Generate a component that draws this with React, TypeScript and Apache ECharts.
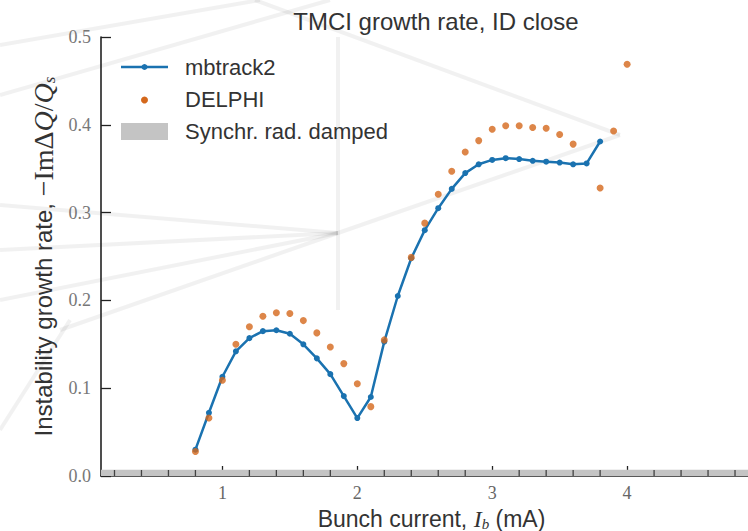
import React, { useEffect, useRef } from "react";
import * as echarts from "echarts";

// mbtrack2 simulation
const mbX = [0.8, 0.9, 1.0, 1.1, 1.2, 1.3, 1.4, 1.5, 1.6, 1.7, 1.8, 1.9, 2.0, 2.1, 2.2, 2.3, 2.4, 2.5, 2.6, 2.7, 2.8, 2.9, 3.0, 3.1, 3.2, 3.3, 3.4, 3.5, 3.6, 3.7, 3.8];
const mbY = [0.030, 0.072, 0.113, 0.142, 0.157, 0.165, 0.166, 0.162, 0.150, 0.134, 0.116, 0.091, 0.066, 0.090, 0.153, 0.205, 0.248, 0.280, 0.305, 0.327, 0.345, 0.355, 0.360, 0.362, 0.361, 0.359, 0.358, 0.357, 0.355, 0.356, 0.381];

// DELPHI
const dpX = [0.8, 0.9, 1.0, 1.1, 1.2, 1.3, 1.4, 1.5, 1.6, 1.7, 1.8, 1.9, 2.0, 2.1, 2.2, 2.4, 2.5, 2.6, 2.7, 2.8, 2.9, 3.0, 3.1, 3.2, 3.3, 3.4, 3.5, 3.6, 3.8, 3.9, 4.0];
const dpY = [0.028, 0.066, 0.109, 0.150, 0.170, 0.182, 0.186, 0.185, 0.177, 0.163, 0.147, 0.128, 0.105, 0.079, 0.155, 0.249, 0.288, 0.321, 0.347, 0.369, 0.382, 0.395, 0.399, 0.399, 0.397, 0.396, 0.389, 0.378, 0.328, 0.393, 0.469];

// synchrotron radiation damped band
const bandX = [0.1, 5.0];
const bandY = [0.007, 0.007];

// axes
const xMin = 0.1;
const xMax = 5.0;
const yMin = 0;
const yMax = 0.5;
const yInterval = 0.1;
const xMinorTicks = [0.2, 0.4, 0.6, 0.8, 1.2, 1.4, 1.6, 1.8, 2.2, 2.4, 2.6, 2.8, 3.2, 3.4, 3.6, 3.8, 4.2, 4.4, 4.6, 4.8];

const BLUE = "#1a72b0";
const ORANGE = "#d4681c";
const SANS = "'Liberation Sans', Arial, sans-serif";
const SERIF = "'Liberation Serif', 'DejaVu Serif', serif";

const bgLines: number[][] = [
  [338, 37, 338, 310],
  [338, 233, 620, 135],
  [338, 233, 0, 300],
  [338, 233, 0, 250],
  [338, 233, 0, 205],
  [338, 233, 60, 330],
  [255, 0, 620, 135],
  [0, 45, 260, 0],
  [0, 95, 330, 0],
  [0, 430, 70, 320],
];

export default function App() {
  const ref = useRef<HTMLDivElement>(null);
  useEffect(() => {
    const chart = echarts.init(ref.current!, null, { renderer: "svg" });
    const bg = bgLines.map((l) => ({
      type: "line",
      z: -10,
      silent: true,
      shape: { x1: l[0], y1: l[1], x2: l[2], y2: l[3] },
      style: { stroke: "rgba(0,0,0,0.055)", lineWidth: 4 },
    }));
    const legendX = 121;
    const legendW = 47;
    const textX = 185;
    const lf = `22px ${SANS}`;
    const legend = [
      { type: "line", z: 100, shape: { x1: legendX, y1: 67, x2: legendX + legendW, y2: 67 }, style: { stroke: BLUE, lineWidth: 2.5 } },
      { type: "circle", z: 101, shape: { cx: legendX + legendW / 2, cy: 67, r: 3 }, style: { fill: BLUE } },
      { type: "circle", z: 100, shape: { cx: legendX + legendW / 2, cy: 100, r: 3.5 }, style: { fill: ORANGE } },
      { type: "rect", z: 100, shape: { x: legendX, y: 123, width: legendW, height: 17 }, style: { fill: "#c4c4c4" } },
      { type: "text", z: 100, x: textX, y: 67, style: { text: "mbtrack2", fill: "#333", font: lf, verticalAlign: "middle" } },
      { type: "text", z: 100, x: textX, y: 99, style: { text: "DELPHI", fill: "#333", font: lf, verticalAlign: "middle" } },
      { type: "text", z: 100, x: textX, y: 131, style: { text: "Synchr. rad. damped", fill: "#333", font: lf, verticalAlign: "middle" } },
    ];
    chart.setOption({
      animation: false,
      backgroundColor: "#ffffff",
      title: {
        text: "TMCI growth rate, ID close",
        left: 431,
        textAlign: "center",
        top: 4,
        textStyle: { fontFamily: SANS, fontSize: 24, fontWeight: "normal", color: "#333" },
      },
      grid: { left: 101, right: -14, top: 37, bottom: 55, containLabel: false, outerBoundsMode: "none" },
      xAxis: {
        type: "value",
        min: xMin,
        max: xMax,
        splitNumber: 5,
        name: "Bunch current, {mi|I}{sub|b} (mA)",
        nameLocation: "middle",
        nameGap: 20,
        nameTextStyle: {
          fontFamily: SANS,
          fontSize: 23,
          color: "#333",
          rich: {
            mi: { fontFamily: SERIF, fontStyle: "italic", fontSize: 24, color: "#333" },
            sub: { fontFamily: SERIF, fontStyle: "italic", fontSize: 15, color: "#333", padding: [11, 0, 0, 0] },
          },
        },
        axisLine: { show: true, onZero: false, lineStyle: { color: "#222", width: 1.6 } },
        axisTick: { show: true, inside: true, length: 10, lineStyle: { color: "#222", width: 1.3 } },
        splitLine: { show: false },
        axisLabel: {
          showMinLabel: false,
          showMaxLabel: false,
          margin: 8,
          fontFamily: SERIF,
          fontSize: 18,
          color: "#666",
          formatter: (v: number) => (Number.isInteger(v) ? String(v) : ""),
        },
      },
      yAxis: {
        type: "value",
        min: yMin,
        max: yMax,
        interval: yInterval,
        name: "Instability growth rate, {m|−ImΔ}{mi|Q}{m|/}{mi|Q}{sub|s}",
        nameLocation: "middle",
        nameGap: 37,
        nameTextStyle: {
          fontFamily: SANS,
          fontSize: 24,
          color: "#333",
          rich: {
            m: { fontFamily: SERIF, fontSize: 28, color: "#333" },
            mi: { fontFamily: SERIF, fontStyle: "italic", fontSize: 28, color: "#333" },
            sub: { fontFamily: SERIF, fontStyle: "italic", fontSize: 17, color: "#333", padding: [12, 0, 0, 0] },
          },
        },
        axisLine: { show: true, lineStyle: { color: "#222", width: 1.6 } },
        axisTick: { show: true, inside: true, length: 10, lineStyle: { color: "#222", width: 1.3 } },
        splitLine: { show: false },
        axisLabel: {
          margin: 10,
          fontFamily: SERIF,
          fontSize: 18,
          color: "#777",
          formatter: (v: number) => v.toFixed(1),
        },
      },
      graphic: [...bg, ...legend],
      series: [
        {
          name: "Synchr. rad. damped",
          type: "line",
          data: bandX.map((x, i) => [x, bandY[i]]),
          symbol: "none",
          lineStyle: { width: 0 },
          areaStyle: { color: "#c4c4c4", opacity: 1 },
          z: 1,
          silent: true,
        },
        {
          name: "minor ticks",
          type: "scatter",
          data: xMinorTicks.map((x) => [x, 0]),
          symbol: "rect",
          symbolSize: [1.3, 6],
          symbolOffset: [0, -3],
          itemStyle: { color: "#222" },
          z: 3,
          silent: true,
        },
        {
          name: "mbtrack2",
          type: "line",
          data: mbX.map((x, i) => [x, mbY[i]]),
          symbol: "circle",
          symbolSize: 6,
          showSymbol: true,
          lineStyle: { color: BLUE, width: 2.5 },
          itemStyle: { color: BLUE },
          z: 4,
        },
        {
          name: "DELPHI",
          type: "scatter",
          data: dpX.map((x, i) => [x, dpY[i]]),
          symbol: "circle",
          symbolSize: 7,
          itemStyle: { color: ORANGE },
          z: 5,
        },
      ],
    });
    return () => chart.dispose();
  }, []);
  return <div ref={ref} style={{ position: "fixed", left: 0, top: 0, width: 748, height: 531 }} />;
}
